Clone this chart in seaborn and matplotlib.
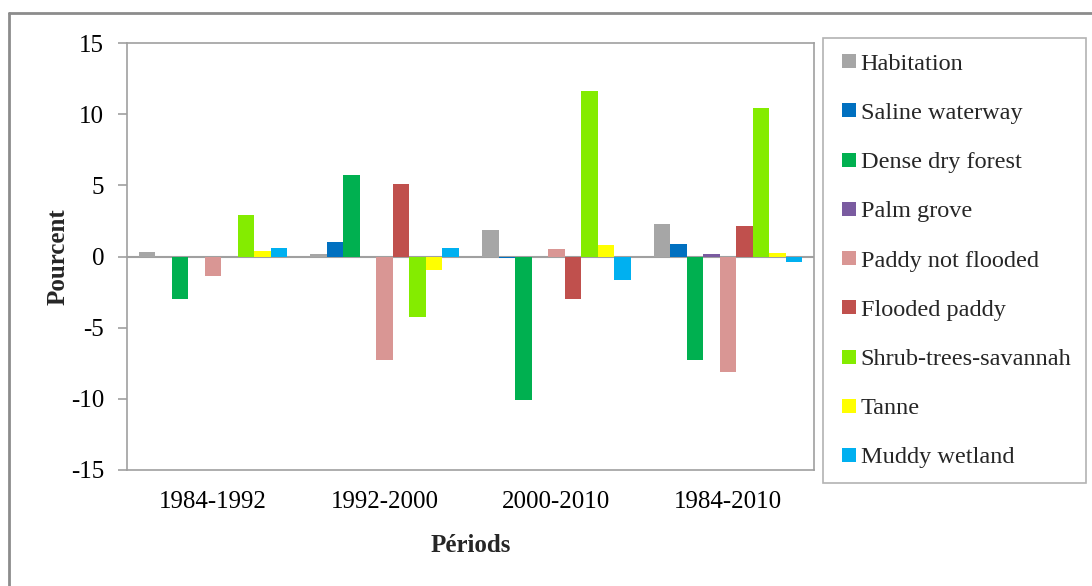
import numpy as np
import pandas as pd
import matplotlib
matplotlib.use('Agg')
import matplotlib.pyplot as plt
import seaborn as sns
from matplotlib.lines import Line2D

# 数据
periods = ['1984-1992', '1992-2000', '2000-2010', '1984-2010']
classes = ['Habitation', 'Saline waterway', 'Dense dry forest', 'Palm grove',
           'Paddy not flooded', 'Flooded paddy', 'Shrub-trees-savannah',
           'Tanne', 'Muddy wetland']
habitation = [0.3, 0.15, 1.83, 2.28]
saline_waterway = [0.0, 0.99, -0.14, 0.89]
dense_dry_forest = [-3.0, 5.73, -10.1, -7.3]
palm_grove = [0.0, 0.0, 0.0, 0.15]
paddy_not_flooded = [-1.34, -7.3, 0.52, -8.14]
flooded_paddy = [0.0, 5.1, -3.0, 2.11]
shrub_trees_savannah = [2.94, -4.23, 11.62, 10.4]
tanne = [0.42, -0.96, 0.8, 0.24]
muddy_wetland = [0.61, 0.59, -1.62, -0.39]

colors = ['#A6A6A6', '#0070C0', '#00B050', '#7A5BA0', '#D99694',
          '#C0504D', '#84EC00', '#FFFF00', '#00B0F0']

series = [habitation, saline_waterway, dense_dry_forest, palm_grove,
          paddy_not_flooded, flooded_paddy, shrub_trees_savannah, tanne,
          muddy_wetland]
rows = []
for name, vals in zip(classes, series):
    for p, v in zip(periods, vals):
        rows.append({'period': p, 'class': name, 'value': v})
df = pd.DataFrame(rows)

sns.set_theme(style='white')
plt.rcParams['font.family'] = ['Liberation Serif', 'DejaVu Serif']
plt.rcParams['axes.unicode_minus'] = False

W, H = 1092, 586
FS = 18
fig = plt.figure(figsize=(W / 100, H / 100), dpi=100)
ax = fig.add_axes([127 / W, 1 - 470 / H, 687 / W, 427 / H])

sns.barplot(data=df, x='period', y='value', hue='class', order=periods,
            hue_order=classes, palette=colors, width=0.865, gap=0,
            saturation=1, linewidth=0, ax=ax)

ax.set_ylim(-15, 15)
ax.set_yticks(np.arange(-15, 16, 5))
ax.set_xlim(-0.5, 3.5)
ax.axhline(0, color='#A0A0A0', lw=1.5, zorder=0.5)

for s in ax.spines.values():
    s.set_color('#A0A0A0')
    s.set_linewidth(1.2)

ax.tick_params(axis='y', which='both', left=True, length=6.5, width=1.2,
               color='#A0A0A0', pad=10, labelsize=FS, labelcolor='black')
ax.tick_params(axis='x', length=0, pad=15, labelsize=FS, labelcolor='black')

ax.set_xlabel('Périods', fontsize=FS, fontweight='bold', labelpad=15)
ax.set_ylabel('Pourcent', fontsize=FS, fontweight='bold', labelpad=1)

# 图例：方块标记
ax.get_legend().remove()
handles = [Line2D([], [], linestyle='none', marker='s', markersize=10,
                  markerfacecolor=c, markeredgewidth=0) for c in colors]
leg = fig.legend(handles, classes, loc='upper left',
                 bbox_to_anchor=(823 / W, 1 - 38 / H), borderaxespad=0,
                 frameon=True, fancybox=False, fontsize=17.5,
                 handlelength=0.95, handletextpad=0.0,
                 labelspacing=1.12, borderpad=0.6)
leg.get_frame().set_edgecolor('#A0A0A0')
leg.get_frame().set_linewidth(1.2)

# 外框
fig.add_artist(Line2D([8.5 / W, 8.5 / W], [0, 1 - 13 / H],
                      transform=fig.transFigure, color='#8C8C8C', lw=2))
fig.add_artist(Line2D([8.5 / W, 1], [1 - 13 / H, 1 - 13 / H],
                      transform=fig.transFigure, color='#8C8C8C', lw=2))

fig.savefig('out.png', dpi=100)
plt.close()
